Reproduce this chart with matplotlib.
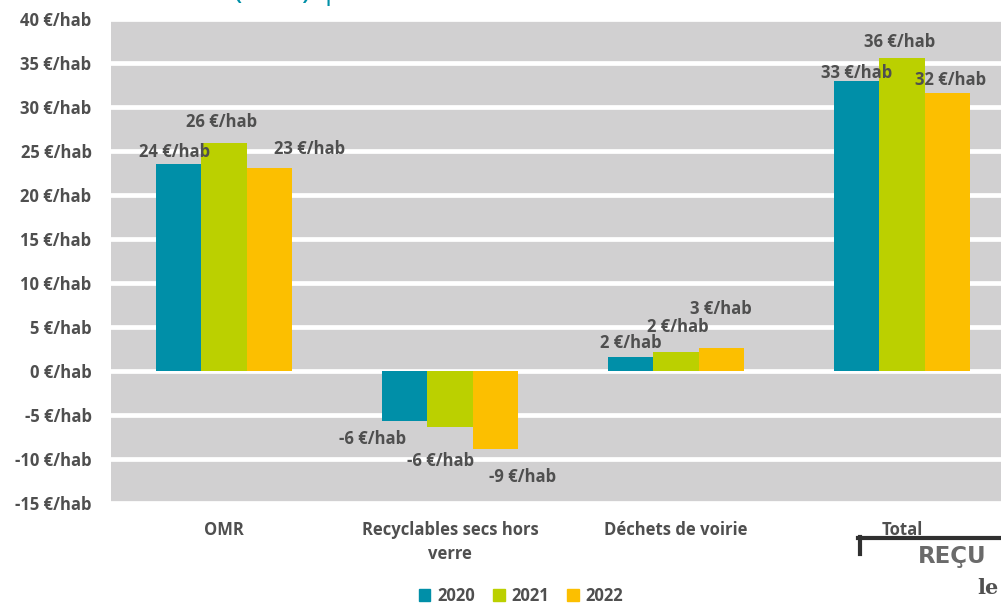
import matplotlib
matplotlib.use("Agg")
import matplotlib.pyplot as plt
from matplotlib.patches import Patch
import numpy as np

plt.rcParams['font.family'] = ['Open Sans', 'DejaVu Sans']

categories = ["OMR", "Recyclables secs hors\nverre", "Déchets de voirie", "Total"]
years = ["2020", "2021", "2022"]
v2020 = [23.5, -5.7, 1.6, 32.9]
v2021 = [25.9, -6.4, 2.2, 35.6]
v2022 = [23.1, -8.9, 2.6, 31.6]
labels2020 = ["24 €/hab", "-6 €/hab", "2 €/hab", "33 €/hab"]
labels2021 = ["26 €/hab", "-6 €/hab", "2 €/hab", "36 €/hab"]
labels2022 = ["23 €/hab", "-9 €/hab", "3 €/hab", "32 €/hab"]
yticks = [-15, -10, -5, 0, 5, 10, 15, 20, 25, 30, 35, 40]

colors = ["#008FA8", "#BBD000", "#FCBF00"]
txtcol = "#4F4F4F"
fs = 12

W, H = 1001, 603
fig = plt.figure(figsize=(W / 100, H / 100), dpi=100)
ax = fig.add_axes([111 / W, (H - 503) / H, 904 / W, 484 / H])
ax.set_facecolor("#D1D0D1")
ax.set_xlim(-0.5, 3.5)
ax.set_ylim(-15, 40)
for s in ax.spines.values():
    s.set_visible(False)
ax.set_yticks(yticks)
ax.set_yticklabels([f"{t} €/hab" for t in yticks])
ax.yaxis.grid(True, color="white", linewidth=3.4)
ax.set_axisbelow(True)
x = np.arange(len(categories))
ax.set_xticks(x)
ax.set_xticklabels(categories, linespacing=1.4)
ax.tick_params(axis="both", length=0, labelsize=fs, labelcolor=txtcol)
ax.tick_params(axis="y", pad=14)
ax.tick_params(axis="x", pad=13)
for lbl in ax.get_xticklabels() + ax.get_yticklabels():
    lbl.set_fontweight("bold")

bw = 0.2
series = [v2020, v2021, v2022]
labs = [labels2020, labels2021, labels2022]
# label offsets in pixels (dx, dy) relative to bar end
offsets = [
    [(-4, 12), (-32, -18), (0, 14), (0, 8)],
    [(-2, 21), (-9, -34), (2, 25), (-2, 16)],
    [(40, 19), (27, -28), (0, 39), (3, 13)],
]
for i, (vals, col) in enumerate(zip(series, colors)):
    xs = x + (i - 1) * bw
    ax.bar(xs, vals, width=bw, color=col, label=years[i], zorder=2)
    for j, v in enumerate(vals):
        dx, dy = offsets[i][j]
        ax.annotate(labs[i][j], xy=(xs[j], v), xytext=(dx * 0.72, dy * 0.72),
                    textcoords="offset points", ha="center", va="center",
                    fontsize=fs, fontweight="bold", color=txtcol, zorder=3)

handles = [Patch(color=c) for c in colors]
fig.legend(handles, years, loc="center", bbox_to_anchor=(521 / W, 1 - 596 / H),
           ncol=3, frameon=False, handlelength=0.7, handleheight=0.7,
           handletextpad=0.4, columnspacing=1.1,
           prop={"weight": "bold", "size": fs}, labelcolor=txtcol)

# cut-off title at top
fig.text(233 / W, 1 + 1.5 / H, "(€HT) |", color="#0090A8", fontsize=23,
         va="baseline", ha="left")

# stamp at bottom right
fig.add_artist(plt.Line2D([858 / W, 1.0], [1 - 538 / H, 1 - 538 / H],
                          color="#303030", linewidth=3, transform=fig.transFigure))
fig.add_artist(plt.Line2D([860 / W, 860 / W], [1 - 537 / H, 1 - 554 / H],
                          color="#303030", linewidth=3, transform=fig.transFigure))
fig.text(918 / W, 1 - 557 / H, "REÇU", color="#6A6A6A", fontsize=16.5,
         fontweight="bold", va="center", ha="left", family="DejaVu Sans")
fig.text(977 / W, 1 - 588 / H, "le", color="#505050", fontsize=15,
         fontweight="bold", va="center", ha="left", family="DejaVu Serif")

fig.savefig("out.png", dpi=100)
